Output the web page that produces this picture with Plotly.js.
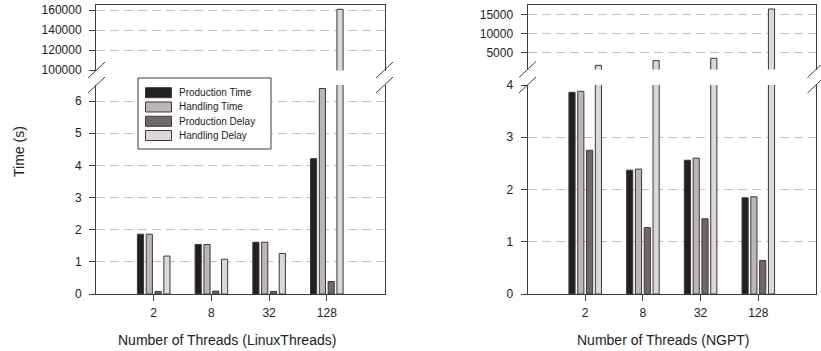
<!DOCTYPE html>
<html>
<head>
<meta charset="utf-8">
<script src="https://cdn.plot.ly/plotly-3.0.1.min.js"></script>
<style>html,body{margin:0;padding:0;background:#fff;}#chart{width:821px;height:351px;}</style>
</head>
<body>
<div id="chart"></div>
<script>
// ---- data ----
const categories = ['2', '8', '32', '128'];
const seriesNames = ['Production Time', 'Handling Time', 'Production Delay', 'Handling Delay'];
const linuxProductionTime = [1.86, 1.54, 1.61, 4.21];
const linuxHandlingTime   = [1.86, 1.54, 1.61, 6.39];
const linuxProductionDelay= [0.08, 0.09, 0.08, 0.39];
const linuxHandlingDelay  = [1.18, 1.08, 1.26, 160700];
const ngptProductionTime  = [3.86, 2.37, 2.56, 1.84];
const ngptHandlingTime    = [3.88, 2.39, 2.60, 1.86];
const ngptProductionDelay = [2.75, 1.27, 1.44, 0.64];
const ngptHandlingDelay   = [1540, 2770, 3400, 16520];
const leftTickVals  = [0, 1, 2, 3, 4, 5, 6];
const leftUpperTicks = [100000, 120000, 140000, 160000];
const rightTickVals = [0, 1, 2, 3, 4];
const rightUpperTicks = [5000, 10000, 15000];

// ---- style ----
const W = 821, H = 351;
const colors = ['#231f20', '#bdb5b5', '#716766', '#ddd8d6'];
const edge = '#3a3a3a';
const axisColor = '#3c3c3c';
const gridColor = '#c8bfbf';
const FONT = 'Liberation Sans, Arial, Helvetica, sans-serif';
const px = x => x / W;
const py = y => (H - y) / H;

const leftSeries = [linuxProductionTime, linuxHandlingTime, linuxProductionDelay, linuxHandlingDelay];
const rightSeries = [ngptProductionTime, ngptHandlingTime, ngptProductionDelay, ngptHandlingDelay];

const traces = [];
function addSet(series, xa, ya) {
  series.forEach((vals, i) => {
    traces.push({
      type: 'bar', x: categories, y: vals, name: seriesNames[i],
      xaxis: xa, yaxis: ya, legendgroup: seriesNames[i], showlegend: false,
      marker: {color: colors[i], line: {color: edge, width: 1}},
      hoverinfo: 'name+y'
    });
  });
}
addSet(leftSeries, 'x', 'y');
addSet(leftSeries, 'x2', 'y2');
addSet(rightSeries, 'x3', 'y3');
addSet(rightSeries, 'x4', 'y4');

const tickFont = {family: FONT, size: 12, color: '#222'};
function xLower(dom) {
  return {domain: dom, type: 'category', range: [-1, 4], showline: true, linecolor: axisColor, linewidth: 1,
    ticks: 'outside', ticklen: 6, tickcolor: axisColor, tickfont: tickFont, ticklabelstandoff: 2,
    showgrid: false, zeroline: false, fixedrange: true};
}
function xUpper(dom, match) {
  return {domain: dom, type: 'category', range: [-1, 4], side: 'top', showline: true, linecolor: axisColor,
    linewidth: 1, ticks: '', showticklabels: false, showgrid: false, zeroline: false, fixedrange: true, matches: match};
}
function yAxis(dom, range, vals, anchor) {
  return {domain: dom, range: range, tickvals: vals, ticktext: vals.map(String), anchor: anchor,
    showline: true, mirror: true, linecolor: axisColor, linewidth: 1,
    ticks: 'outside', ticklen: 6, tickcolor: axisColor, tickfont: tickFont, ticklabelstandoff: 5,
    showgrid: true, gridcolor: gridColor, griddash: '9px,5px', gridwidth: 1, zeroline: false,
    exponentformat: 'none', fixedrange: true};
}
const leftDom = [px(96), px(384.5)];
const rightDom = [px(527.5), px(816)];
const lowerDom = [py(294), py(85)];
const leftUpperDom = [py(70.5), py(5)];
const rightUpperDom = [py(69.5), py(5)];

const layout = {
  width: W, height: H, margin: {l: 0, r: 0, t: 0, b: 0},
  paper_bgcolor: '#fff', plot_bgcolor: 'rgba(0,0,0,0)',
  font: {family: FONT, color: '#222'},
  barmode: 'group', bargap: 0.39, bargroupgap: 0.3,
  showlegend: false,
  xaxis: Object.assign(xLower(leftDom), {anchor: 'y'}),
  yaxis: yAxis(lowerDom, [0, 6.5], leftTickVals, 'x'),
  xaxis2: Object.assign(xUpper(leftDom, 'x'), {anchor: 'y2'}),
  yaxis2: yAxis(leftUpperDom, [99500, 165000], leftUpperTicks, 'x2'),
  xaxis3: Object.assign(xLower(rightDom), {anchor: 'y3'}),
  yaxis3: yAxis(lowerDom, [0, 4], rightTickVals, 'x3'),
  xaxis4: Object.assign(xUpper(rightDom, 'x3'), {anchor: 'y4'}),
  yaxis4: yAxis(rightUpperDom, [425, 17580], rightUpperTicks, 'x4'),
  annotations: [
    {text: 'Number of Threads (LinuxThreads)', xref: 'paper', yref: 'paper', x: px(227), y: py(340),
      xanchor: 'center', yanchor: 'middle', showarrow: false, font: {family: FONT, size: 14, color: '#222'}},
    {text: 'Number of Threads (NGPT)', xref: 'paper', yref: 'paper', x: px(663), y: py(340),
      xanchor: 'center', yanchor: 'middle', showarrow: false, font: {family: FONT, size: 14, color: '#222'}},
    {text: 'Time (s)', xref: 'paper', yref: 'paper', x: px(19), y: py(152), textangle: -90,
      xanchor: 'center', yanchor: 'middle', showarrow: false, font: {family: FONT, size: 14, color: '#222'}}
  ],
  shapes: []
};
// axis-break slashes
[[96.5, 70], [96.5, 85], [384.5, 70], [384.5, 85], [527.5, 69.5], [527.5, 85], [816, 69.5], [816, 85]].forEach(([cx, cy]) => {
  layout.shapes.push({type: 'line', xref: 'paper', yref: 'paper', x0: px(cx - 8.5), y0: py(cy + 8), x1: px(cx + 8.5), y1: py(cy - 8),
    line: {color: axisColor, width: 1}});
});
// legend box (drawn to match the reference's wide swatches and tight rows)
layout.shapes.push({type: 'rect', xref: 'paper', yref: 'paper', x0: px(138), y0: py(149), x1: px(271), y1: py(78),
  fillcolor: '#fff', line: {color: axisColor, width: 1}, layer: 'above'});
const rowY = [92.7, 107, 121.3, 135.5];
seriesNames.forEach((name, i) => {
  layout.shapes.push({type: 'rect', xref: 'paper', yref: 'paper', x0: px(145.5), y0: py(rowY[i] + 5), x1: px(171.5), y1: py(rowY[i] - 5),
    fillcolor: colors[i], line: {color: edge, width: 1}, layer: 'above'});
  layout.annotations.push({text: name, xref: 'paper', yref: 'paper', x: px(177), y: py(rowY[i]),
    xanchor: 'left', yanchor: 'middle', showarrow: false, font: {family: FONT, size: 10, color: '#222'}});
});

Plotly.newPlot('chart', traces, layout, {displayModeBar: false, staticPlot: true});
</script>
</body>
</html>
